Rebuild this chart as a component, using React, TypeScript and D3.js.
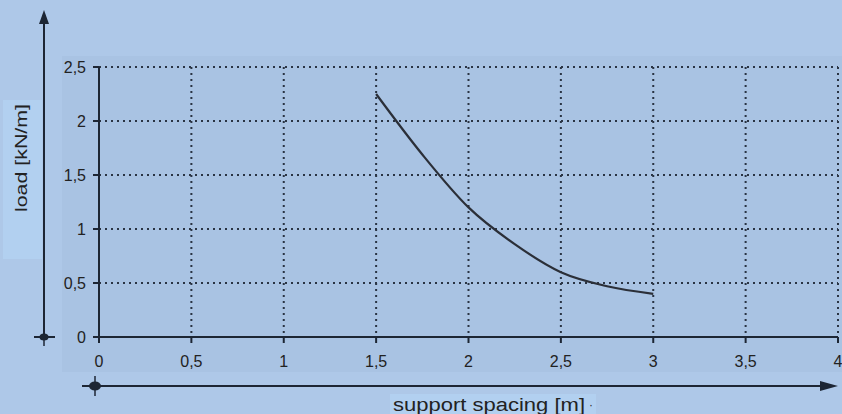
import React from "react";
import * as d3 from "d3";

const spacing = [1.5, 1.75, 2, 2.25, 2.5, 2.75, 3];
const load = [2.25, 1.69, 1.2, 0.86, 0.6, 0.47, 0.4];
const xTicks = [0, 0.5, 1, 1.5, 2, 2.5, 3, 3.5, 4];
const yTicks = [0, 0.5, 1, 1.5, 2, 2.5];
const xTitle = "support spacing [m]";
const yTitle = "load [kN/m]";

const W = 842;
const H = 414;
const fmt = (v: number) => String(v).replace(".", ",");

export default function App() {
  const x = d3.scaleLinear().domain([0, 4]).range([99, 838]);
  const y = d3.scaleLinear().domain([0, 2.5]).range([337, 67]);
  const pts = spacing.map((s, i) => [s, load[i]] as [number, number]);
  const line = d3
    .line<[number, number]>()
    .x((d) => x(d[0]))
    .y((d) => y(d[1]))
    .curve(d3.curveMonotoneX);
  const dark = "#1d2634";
  const font = "'Liberation Sans', Arial, sans-serif";

  return (
    <svg
      width={W}
      height={H}
      style={{ position: "absolute", left: 0, top: 0, display: "block" }}
    >
      <rect x={0} y={0} width={W} height={H} fill="#aec8e8" />
      <rect x={62} y={56} width={W - 62} height={372 - 56} fill="#a9c3e3" />
      {/* grid */}
      {xTicks.slice(1).map((t) => (
        <line
          key={"gx" + t}
          x1={x(t)}
          x2={x(t)}
          y1={y(2.5)}
          y2={y(0)}
          stroke="#2a3444"
          strokeWidth={2}
          strokeDasharray="2,4"
        />
      ))}
      {yTicks.slice(1).map((t) => (
        <line
          key={"gy" + t}
          x1={x(0)}
          x2={x(4)}
          y1={y(t)}
          y2={y(t)}
          stroke="#2a3444"
          strokeWidth={2}
          strokeDasharray="2,4"
        />
      ))}
      {/* axes */}
      <line x1={x(0)} x2={x(0)} y1={y(2.5)} y2={y(0)} stroke={dark} strokeWidth={2} />
      <line x1={x(0)} x2={x(4)} y1={y(0)} y2={y(0)} stroke={dark} strokeWidth={2} />
      {yTicks.map((t) => (
        <g key={"yt" + t}>
          <line x1={x(0) - 6} x2={x(0)} y1={y(t)} y2={y(t)} stroke={dark} strokeWidth={2} />
          <text
            x={86}
            y={y(t) + 6}
            textAnchor="end"
            fontFamily={font}
            fontSize={16}
            fill="#222"
          >
            {fmt(t)}
          </text>
        </g>
      ))}
      {xTicks.map((t) => (
        <g key={"xt" + t}>
          <line x1={x(t)} x2={x(t)} y1={y(0)} y2={y(0) + 6} stroke={dark} strokeWidth={2} />
          <text
            x={x(t)}
            y={367}
            textAnchor="middle"
            fontFamily={font}
            fontSize={16}
            fill="#222"
          >
            {fmt(t)}
          </text>
        </g>
      ))}
      {/* curve */}
      <path d={line(pts) || ""} fill="none" stroke="#2b2f38" strokeWidth={2.2} />
      {/* outer arrows */}
      <line x1={44} x2={44} y1={337} y2={20} stroke={dark} strokeWidth={2} />
      <path d="M44,10 L39,24 L49,24 Z" fill={dark} />
      <line x1={34} x2={55} y1={337} y2={337} stroke={dark} strokeWidth={2} />
      <line x1={44} x2={44} y1={330} y2={346} stroke={dark} strokeWidth={1.5} />
      <ellipse cx={44} cy={337} rx={4.5} ry={3.5} fill={dark} />

      <line x1={82} x2={825} y1={386} y2={386} stroke={dark} strokeWidth={2} />
      <path d="M838,386 L820,381 L820,391 Z" fill={dark} />
      <line x1={95} x2={95} y1={376} y2={396} stroke={dark} strokeWidth={1.5} />
      <ellipse cx={95} cy={386} rx={6} ry={4.5} fill={dark} />
      {/* titles */}
      <rect x={3} y={100} width={39} height={159} fill="#b2d0f0" />
      <text
        transform="translate(27,158) rotate(-90)"
        textAnchor="middle"
        fontFamily={font}
        fontSize={17}
        fill="#222"
        textLength={108}
        lengthAdjust="spacingAndGlyphs"
      >
        {yTitle}
      </text>
      <rect x={390} y={394} width={206} height={20} fill="#b2d0f0" />
      <text
        x={393}
        y={411}
        fontFamily={font}
        fontSize={18}
        fill="#222"
        textLength={192}
        lengthAdjust="spacingAndGlyphs"
      >
        {xTitle}
      </text>
      <text x={589} y={409} fontFamily={font} fontSize={12} fill="#333">
        ·
      </text>
    </svg>
  );
}
